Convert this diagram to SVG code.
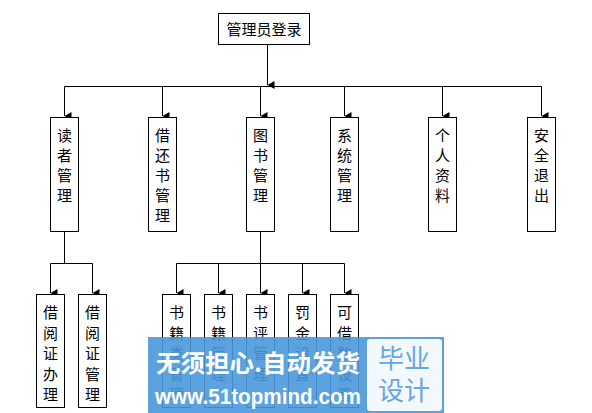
<svg xmlns="http://www.w3.org/2000/svg" width="592" height="413" viewBox="0 0 592 413">
<defs>
<marker id="ah" markerWidth="8" markerHeight="8" refX="4" refY="7" orient="auto-start-reverse" markerUnits="userSpaceOnUse" viewBox="0 0 8 8">
<path d="M0,0 L8,0 L4,7 Z" fill="#000"/>
</marker>
</defs>
<style>
.box{fill:#fff;stroke:#000;stroke-width:1}
.t{font-family:"Noto Sans CJK SC","Liberation Sans",sans-serif;font-size:15px;fill:#000;text-anchor:middle}
.ln{fill:none;stroke:#000;stroke-width:1}
.ar{fill:none;stroke:#000;stroke-width:1;marker-end:url(#ah)}
</style>
<rect width="592" height="413" fill="#fff"/>
<g id="connectors">
<path class="ar" d="M267.5,44 V85"/>
<path class="ln" d="M64.5,86.5 H541.5"/>
<path class="ar" d="M64.5,86.5 V116"/>
<path class="ar" d="M162.5,86.5 V116"/>
<path class="ar" d="M260.5,86.5 V116"/>
<path class="ar" d="M344.5,86.5 V116"/>
<path class="ar" d="M442.5,86.5 V116"/>
<path class="ar" d="M541.5,86.5 V116"/>
<path class="ln" d="M64.5,232 V263.5"/>
<path class="ln" d="M50.5,263.5 H92.5"/>
<path class="ar" d="M50.5,263.5 V293"/>
<path class="ar" d="M92.5,263.5 V293"/>
<path class="ln" d="M260.5,232 V263.5"/>
<path class="ln" d="M176.5,263.5 H344.5"/>
<path class="ar" d="M176.5,263.5 V293"/>
<path class="ar" d="M218.5,263.5 V293"/>
<path class="ar" d="M260.5,263.5 V293"/>
<path class="ar" d="M302.5,263.5 V293"/>
<path class="ar" d="M344.5,263.5 V293"/>
</g>
<g id="n-login">
<rect class="box" x="218.5" y="13.5" width="91" height="31"/>
<text class="t" x="264" y="35">管理员登录</text>
</g>
<g id="n-reader">
<rect class="box" x="50.5" y="117.5" width="28" height="114"/>
<text class="t" x="64.5" y="141"><tspan x="64.5">读</tspan><tspan x="64.5" dy="20">者</tspan><tspan x="64.5" dy="20">管</tspan><tspan x="64.5" dy="20">理</tspan></text>
</g>
<g id="n-borrow">
<rect class="box" x="148.5" y="117.5" width="28" height="114"/>
<text class="t" x="162.5" y="141"><tspan x="162.5">借</tspan><tspan x="162.5" dy="20">还</tspan><tspan x="162.5" dy="20">书</tspan><tspan x="162.5" dy="20">管</tspan><tspan x="162.5" dy="20">理</tspan></text>
</g>
<g id="n-book">
<rect class="box" x="246.5" y="117.5" width="28" height="114"/>
<text class="t" x="260.5" y="141"><tspan x="260.5">图</tspan><tspan x="260.5" dy="20">书</tspan><tspan x="260.5" dy="20">管</tspan><tspan x="260.5" dy="20">理</tspan></text>
</g>
<g id="n-system">
<rect class="box" x="330.5" y="117.5" width="28" height="114"/>
<text class="t" x="344.5" y="141"><tspan x="344.5">系</tspan><tspan x="344.5" dy="20">统</tspan><tspan x="344.5" dy="20">管</tspan><tspan x="344.5" dy="20">理</tspan></text>
</g>
<g id="n-profile">
<rect class="box" x="428.5" y="117.5" width="28" height="114"/>
<text class="t" x="442.5" y="141"><tspan x="442.5">个</tspan><tspan x="442.5" dy="20">人</tspan><tspan x="442.5" dy="20">资</tspan><tspan x="442.5" dy="20">料</tspan></text>
</g>
<g id="n-exit">
<rect class="box" x="527.5" y="117.5" width="28" height="114"/>
<text class="t" x="541.5" y="141"><tspan x="541.5">安</tspan><tspan x="541.5" dy="20">全</tspan><tspan x="541.5" dy="20">退</tspan><tspan x="541.5" dy="20">出</tspan></text>
</g>
<g id="n-card-new">
<rect class="box" x="36.5" y="294.5" width="28" height="113"/>
<text class="t" x="50.5" y="318"><tspan x="50.5">借</tspan><tspan x="50.5" dy="20.5">阅</tspan><tspan x="50.5" dy="20.5">证</tspan><tspan x="50.5" dy="20.5">办</tspan><tspan x="50.5" dy="20.5">理</tspan></text>
</g>
<g id="n-card-mgr">
<rect class="box" x="78.5" y="294.5" width="28" height="113"/>
<text class="t" x="92.5" y="318"><tspan x="92.5">借</tspan><tspan x="92.5" dy="20.5">阅</tspan><tspan x="92.5" dy="20.5">证</tspan><tspan x="92.5" dy="20.5">管</tspan><tspan x="92.5" dy="20.5">理</tspan></text>
</g>
<g id="n-book-cat">
<rect class="box" x="162.5" y="294.5" width="28" height="113"/>
<text class="t" x="176.5" y="318"><tspan x="176.5">书</tspan><tspan x="176.5" dy="20.5">籍</tspan><tspan x="176.5" dy="20.5">类</tspan><tspan x="176.5" dy="20.5">管</tspan><tspan x="176.5" dy="20.5">理</tspan></text>
</g>
<g id="n-book-mgr">
<rect class="box" x="204.5" y="294.5" width="28" height="113"/>
<text class="t" x="218.5" y="318"><tspan x="218.5">书</tspan><tspan x="218.5" dy="20.5">籍</tspan><tspan x="218.5" dy="20.5">管</tspan><tspan x="218.5" dy="20.5">理</tspan></text>
</g>
<g id="n-review">
<rect class="box" x="246.5" y="294.5" width="28" height="113"/>
<text class="t" x="260.5" y="318"><tspan x="260.5">书</tspan><tspan x="260.5" dy="20.5">评</tspan><tspan x="260.5" dy="20.5">管</tspan><tspan x="260.5" dy="20.5">理</tspan></text>
</g>
<g id="n-fine">
<rect class="box" x="288.5" y="294.5" width="28" height="113"/>
<text class="t" x="302.5" y="318"><tspan x="302.5">罚</tspan><tspan x="302.5" dy="20.5">金</tspan><tspan x="302.5" dy="20.5">设</tspan><tspan x="302.5" dy="20.5">置</tspan></text>
</g>
<g id="n-limit">
<rect class="box" x="330.5" y="294.5" width="28" height="113"/>
<text class="t" x="344.5" y="318"><tspan x="344.5">可</tspan><tspan x="344.5" dy="20.5">借</tspan><tspan x="344.5" dy="20.5">数</tspan><tspan x="344.5" dy="20.5">设</tspan><tspan x="344.5" dy="20.5">置</tspan></text>
</g>
<g id="watermark">
<rect x="148" y="337" width="296" height="76" fill="#4a98dc" fill-opacity="0.9"/>
<rect x="367" y="339" width="75" height="72" rx="3" fill="#f3f8fd"/>
<text x="156" y="372" font-family="Noto Sans CJK SC,sans-serif" font-size="24" font-weight="bold" fill="#fff" textLength="204" lengthAdjust="spacingAndGlyphs">无须担心.自动发货</text>
<text x="155" y="404" font-family="Liberation Sans,Arial,sans-serif" font-size="22" font-weight="bold" fill="#fff" textLength="206" lengthAdjust="spacingAndGlyphs">www.51topmind.com</text>
<text x="404" y="368" font-family="Noto Sans CJK SC,sans-serif" font-size="26" fill="#67a6de" text-anchor="middle">毕业</text>
<text x="404" y="400" font-family="Noto Sans CJK SC,sans-serif" font-size="26" fill="#67a6de" text-anchor="middle">设计</text>
</g>
</svg>
